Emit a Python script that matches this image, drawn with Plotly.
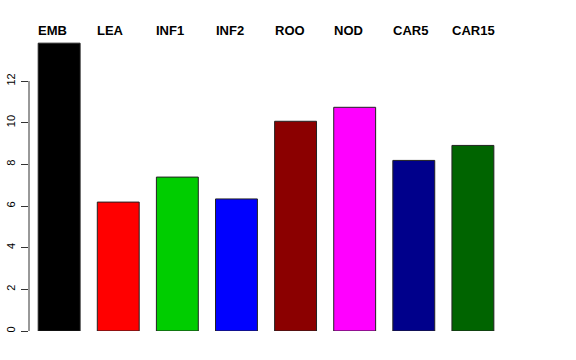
import plotly.graph_objects as go

categories = ["EMB", "LEA", "INF1", "INF2", "ROO", "NOD", "CAR5", "CAR15"]
values = [13.82, 6.19, 7.39, 6.34, 10.07, 10.74, 8.19, 8.91]
colors = ["#000000", "#FF0000", "#00CD00", "#0000FF", "#8B0000", "#FF00FF", "#00008B", "#006400"]
y_ticks = [0, 2, 4, 6, 8, 10, 12]

bar_width = 0.709
xs = list(range(len(categories)))

fig = go.Figure()
fig.add_trace(go.Bar(
    x=xs, y=values, width=bar_width,
    marker=dict(color=colors, line=dict(color="#222222", width=1)),
    showlegend=False, hoverinfo="skip",
))

for i, name in enumerate(categories):
    fig.add_annotation(
        x=i - bar_width / 2, y=1, xref="x", yref="paper",
        text="<b>" + name + "</b>", showarrow=False,
        xanchor="left", yanchor="middle", xshift=-2, yshift=-1,
        font=dict(family="Liberation Sans, Arial, sans-serif", size=13, color="black"),
    )

# y axis line spanning only the tick range (R style)
fig.add_shape(type="line", xref="paper", yref="y", x0=0, x1=0,
              y0=min(y_ticks), y1=max(y_ticks), line=dict(color="#333333", width=1))

fig.update_layout(
    width=576, height=360,
    margin=dict(l=29, r=44, t=29, b=29, autoexpand=False),
    plot_bgcolor="white", paper_bgcolor="white",
    xaxis=dict(range=[-0.51, 8.0], showticklabels=False, showgrid=False,
               zeroline=False, showline=False, ticks="", automargin=False),
    yaxis=dict(range=[0, 14.5], tickvals=y_ticks, ticks="outside", ticklen=7,
               tickcolor="#333333", tickangle=-90, showgrid=False, zeroline=False,
               showline=False, automargin=False, ticklabelstandoff=2,
               tickfont=dict(family="Liberation Sans, Arial, sans-serif", size=11, color="black")),
)

fig.write_html("out.html", config={"displayModeBar": False},
               post_script="document.body.style.margin='0';")
